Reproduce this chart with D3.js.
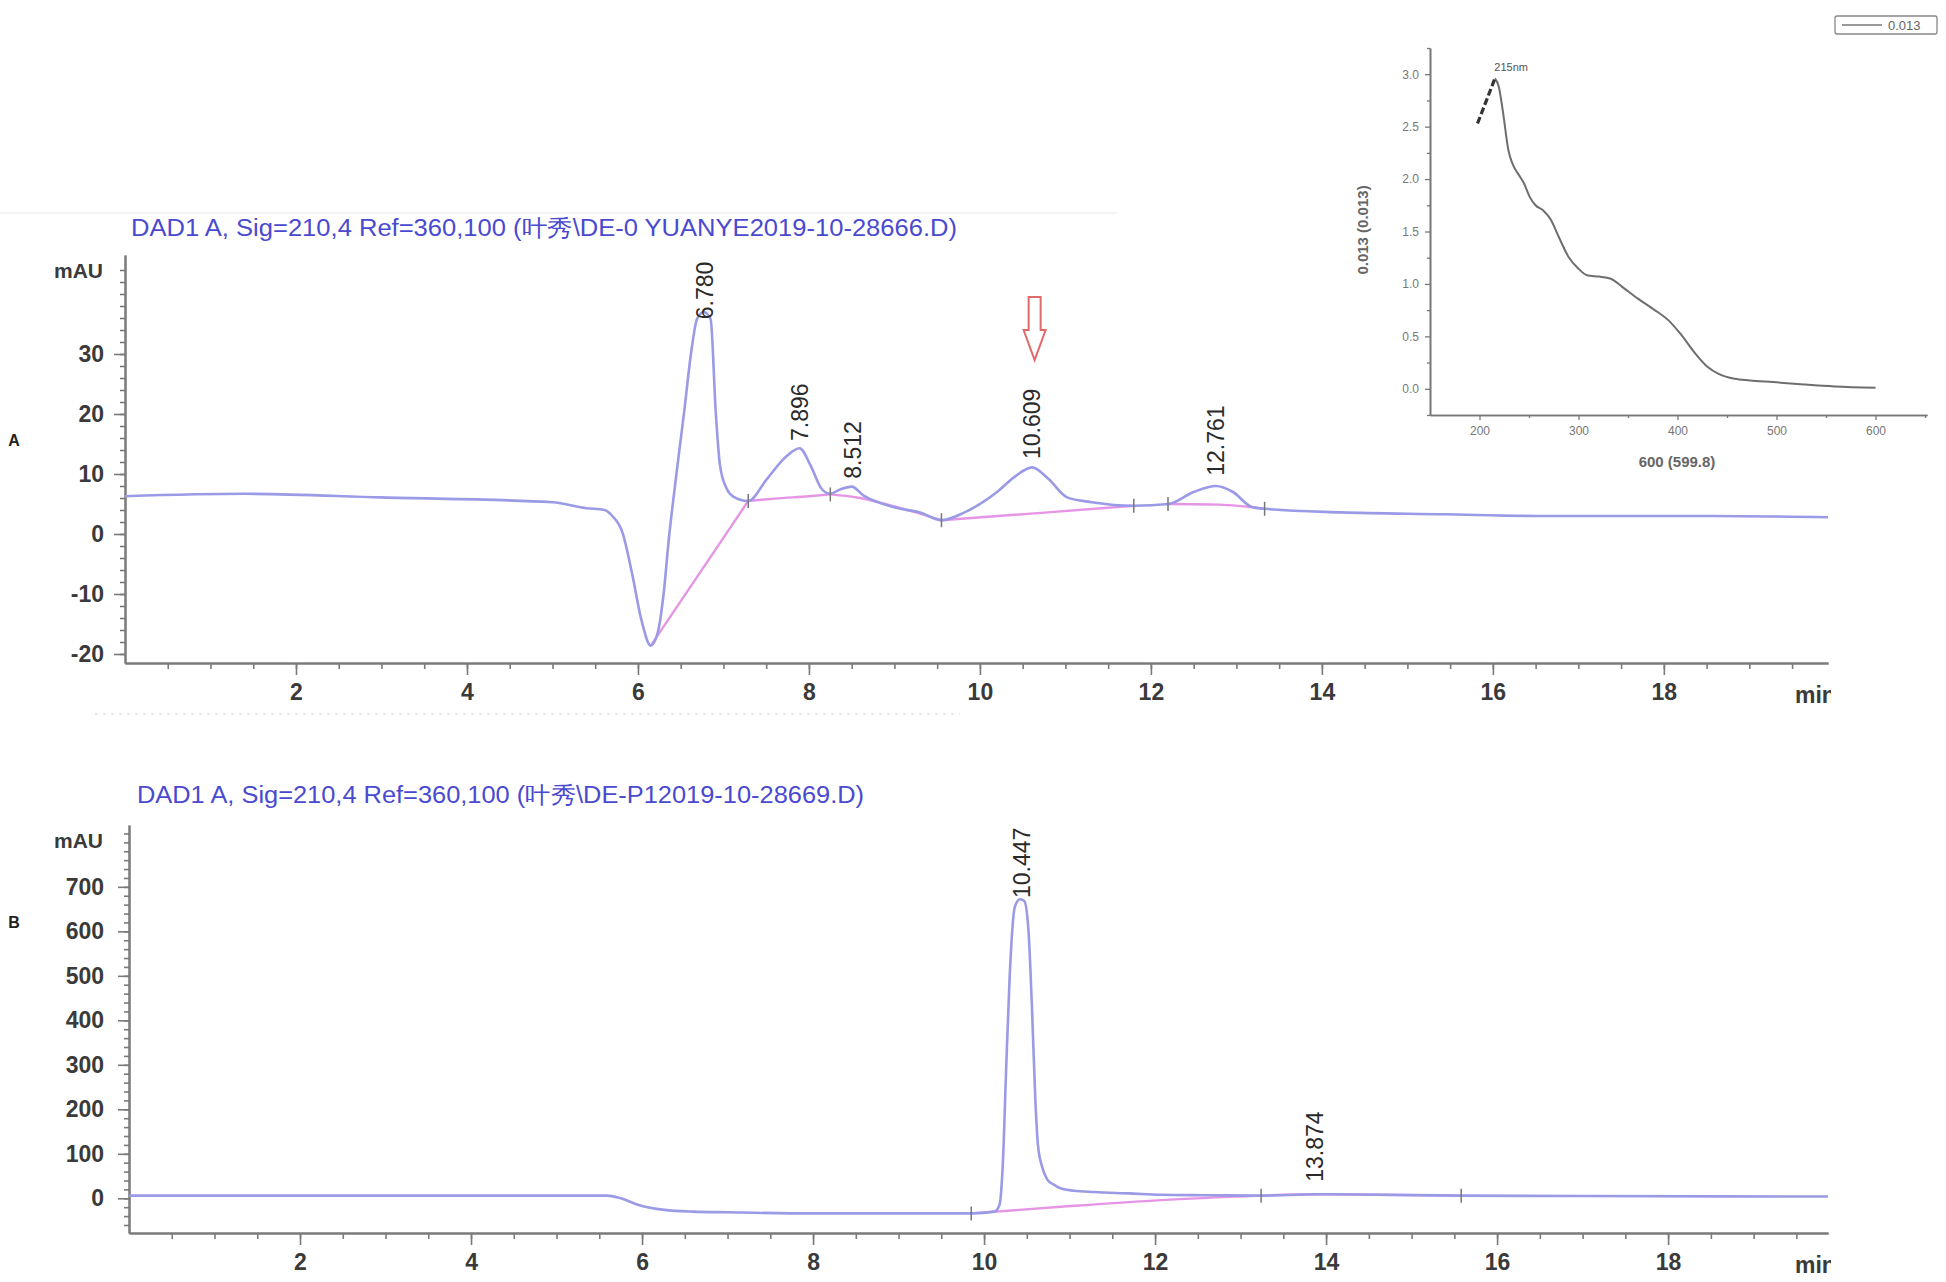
<!DOCTYPE html>
<html>
<head>
<meta charset="utf-8">
<script src="https://cdn.jsdelivr.net/npm/d3@7"></script>
<style>
body { margin: 0; background: #fff; }
svg { display: block; font-family: "Liberation Sans", Arial, sans-serif; }
</style>
</head>
<body>
<svg width="1946" height="1282"></svg>
<script>
var svg = d3.select("svg");

// chromatogram A (retention time in min, signal in mAU)
var rtA = [0, 1.4, 3.0, 5.0, 5.4, 5.61, 5.7, 5.82, 5.93, 6.04, 6.15, 6.23, 6.3, 6.36, 6.45, 6.54, 6.62, 6.69, 6.77, 6.85, 6.91, 6.96, 7.04, 7.12, 7.29,
           7.51, 7.74, 7.89, 8.02, 8.15, 8.25, 8.36, 8.5, 8.64, 8.87, 9.07, 9.3, 9.55, 9.82, 10.2, 10.42, 10.61, 10.8, 11.02, 11.31,
           11.8, 12.21, 12.5, 12.76, 12.96, 13.18, 13.33, 14.22, 15.42, 16.54, 18.55, 19.92];
var mauA = [6.3, 6.7, 6.1, 5.3, 4.3, 4.0, 3.0, 0.2, -6.5, -14.3, -18.6, -16.5, -10, -1, 10, 20.3, 30, 35.8, 37, 35.8, 20.3, 11.4, 7.5, 6.2, 5.5,
            9.2, 13.0, 14.3, 11.4, 7.5, 6.7, 7.4, 7.9, 6.4, 5.0, 4.2, 3.6, 2.3, 3.6, 7.0, 9.7, 11.1, 9.2, 6.1, 5.3,
            4.7, 5.0, 7.0, 8.0, 7.0, 4.5, 4.2, 3.6, 3.3, 3.0, 3.0, 2.8];
var baseRtA = [[6.15, 7.29], [7.29, 7.6, 8.0, 8.25], [8.25, 8.6, 9.0, 9.3, 9.55], [9.55, 10.6, 11.8], [12.2, 12.8, 13.33]];
var baseMauA = [[-18.6, 5.5], [5.5, 5.9, 6.3, 6.6], [6.6, 6.0, 4.6, 3.4, 2.3], [2.3, 3.4, 4.7], [5.0, 4.9, 4.2]];
var markRtA = [7.29, 8.25, 9.55, 11.8, 12.2, 13.33];
var markMauA = [5.5, 6.6, 2.3, 4.7, 5.0, 4.2];
var peakLabelsA = ["6.780", "7.896", "8.512", "10.609", "12.761"];
var peakLabelMauA = [35.8, 15.5, 9.2, 12.5, 9.7];
var yTicksA = [-20, -10, 0, 10, 20, 30];

// chromatogram B
var rtB = [0, 2, 4, 5.59, 5.75, 5.96, 6.26, 6.6, 7.0, 7.98, 9.0, 9.85, 10.12, 10.18, 10.22, 10.26, 10.3, 10.36, 10.42, 10.47,
           10.52, 10.56, 10.6, 10.63, 10.68, 10.74, 10.82, 10.9, 11.05, 11.29, 11.7, 12.07, 12.6, 13.24, 13.9, 14.6, 15.58, 17.0, 19.87];
var mauB = [6, 6, 6, 6, 0, -15, -26, -30, -31.5, -34, -34, -34, -30, -15, 80, 300, 500, 655, 672, 668,
            600, 430, 220, 120, 70, 42, 30, 22, 17, 14, 11, 8, 7, 6, 9, 8, 6, 5, 4];
var baseRtB = [[9.85, 10.9, 12.07, 13.24], [13.24, 13.9, 14.6, 15.58]];
var baseMauB = [[-34, -19, -4, 6], [6, 9, 8, 6]];
var markRtB = [9.85, 13.24, 15.58];
var markMauB = [-34, 6, 6];
var peakLabelsB = ["10.447", "13.874"];
var peakLabelMauB = [675, 37];
var yTicksB = [0, 100, 200, 300, 400, 500, 600, 700];

var xTicks = [2, 4, 6, 8, 10, 12, 14, 16, 18];

// UV spectrum inset
var uvLeadNm = [198, 215.6];
var uvLeadAbs = [2.53, 2.96];
var uvNm = [215.6, 219.5, 223.4, 229.3, 233.2, 239, 244.9, 250.7, 256.6, 264.4, 272.2, 280, 289.8, 299.5, 309.3, 321,
            332.7, 344.4, 360, 375.6, 391.2, 402.9, 418.5, 430.2, 442, 457.6, 473.2, 496.6, 527.8, 559, 600];
var uvAbs = [2.96, 2.88, 2.66, 2.27, 2.15, 2.05, 1.96, 1.83, 1.75, 1.70, 1.61, 1.45, 1.26, 1.15, 1.08, 1.07,
             1.05, 0.97, 0.86, 0.76, 0.65, 0.525, 0.33, 0.21, 0.14, 0.095, 0.08, 0.064, 0.041, 0.022, 0.01];
var uvXTicks = [200, 300, 400, 500, 600];
var uvYTicks = [0, 0.5, 1.0, 1.5, 2.0, 2.5, 3.0];

var titleA = "DAD1 A, Sig=210,4 Ref=360,100 (叶秀\\DE-0 YUANYE2019-10-28666.D)";
var titleB = "DAD1 A, Sig=210,4 Ref=360,100 (叶秀\\DE-P12019-10-28669.D)";

var signalColor = "#9a9ae6";
var baseColor = "#e695e6";

var plain = d => String(d); // hyphen minus, like the instrument print-out

var styleAxis = function(g, size) {
  g.selectAll(".domain").attr("stroke", "#7a7a7a").attr("stroke-width", 2);
  g.selectAll(".tick line").attr("stroke", "#7a7a7a").attr("stroke-width", 1.6);
  g.selectAll("text").attr("fill", "#3a3a3a").style("font-size", size + "px")
    .style("font-weight", "bold").attr("font-family", null);
};

svg.append("defs").append("clipPath").attr("id", "page")
  .append("rect").attr("x", 0).attr("y", 0).attr("width", 1831).attr("height", 1282);

var drawPanel = function(p) {
  var x = d3.scaleLinear().domain(p.xDomain).range([p.left, p.right]);
  var y = d3.scaleLinear().domain(p.yDomain).range([p.bottom, p.top]);
  var g = svg.append("g");

  // x axis: minor every 0.5 min, labelled every 2 min
  var gx = g.append("g").attr("transform", "translate(0," + p.bottom + ")");
  gx.append("g").call(d3.axisBottom(x).tickValues(d3.range(0.5, 19.9, 0.5)).tickSize(6).tickFormat("").tickSizeOuter(0));
  gx.append("g").call(d3.axisBottom(x).tickValues(xTicks).tickSize(12).tickPadding(9).tickFormat(plain).tickSizeOuter(0));
  styleAxis(gx, 23);

  var gy = g.append("g").attr("transform", "translate(" + p.left + ",0)");
  gy.append("g").call(d3.axisLeft(y).tickValues(p.yMinor).tickSize(5).tickFormat("").tickSizeOuter(0));
  gy.append("g").call(d3.axisLeft(y).tickValues(p.yTicks).tickSize(11).tickPadding(p.yPad).tickFormat(plain).tickSizeOuter(0));
  styleAxis(gy, 23);

  g.append("text").attr("x", 103).attr("y", p.unitY).attr("text-anchor", "end")
    .attr("fill", "#3a3a3a").style("font-size", "21px").style("font-weight", "bold").text("mAU");

  g.append("text").attr("x", 1795).attr("y", p.bottom + 40).attr("clip-path", "url(#page)")
    .attr("fill", "#3a3a3a").style("font-size", "23px").style("font-weight", "bold").text("min");

  g.append("text").attr("x", p.titleX).attr("y", p.titleY)
    .attr("fill", "#4a4ad0").style("font-size", "23px")
    .attr("textLength", p.titleLen).attr("lengthAdjust", "spacingAndGlyphs")
    .text(p.title);

  g.append("text").attr("x", 14).attr("y", p.letterY).attr("text-anchor", "middle")
    .attr("fill", "#222").style("font-size", "16px").style("font-weight", "bold").text(p.letter);

  var line = d3.line()
    .x(d => x(d[0]))
    .y(d => y(d[1]))
    .curve(d3.curveMonotoneX);

  // integration baselines
  p.baseRt.forEach(function(seg, i) {
    g.append("path")
      .attr("fill", "none")
      .attr("stroke", baseColor)
      .attr("stroke-width", 2.4)
      .attr("d", line(d3.zip(seg, p.baseMau[i])));
  });

  g.append("path")
    .attr("fill", "none")
    .attr("stroke", signalColor)
    .attr("stroke-width", 2.6)
    .attr("stroke-linejoin", "round")
    .attr("d", line(d3.zip(p.rt, p.mau)));

  // peak start/stop marks
  p.markRt.forEach(function(t, i) {
    g.append("line")
      .attr("x1", x(t)).attr("x2", x(t))
      .attr("y1", y(p.markMau[i]) - 7).attr("y2", y(p.markMau[i]) + 7)
      .attr("stroke", "#777").attr("stroke-width", 1.5);
  });

  p.labels.forEach(function(lab, i) {
    g.append("text")
      .attr("transform", "translate(" + (x(+lab) + 8) + "," + y(p.labelMau[i]) + ") rotate(-90)")
      .attr("fill", "#2a2a2a").style("font-size", "23px")
      .text(lab);
  });

  return {x: x, y: y, g: g};
};

// faint scan artefacts
svg.append("line").attr("x1", 0).attr("x2", 1117).attr("y1", 213).attr("y2", 213)
  .attr("stroke", "#f3f3f3").attr("stroke-width", 2);
svg.append("line").attr("x1", 95).attr("x2", 960).attr("y1", 714).attr("y2", 714)
  .attr("stroke", "#e6e6f6").attr("stroke-width", 2).attr("stroke-dasharray", "3,5");

var panelA = drawPanel({
  left: 125, right: 1828, top: 255, bottom: 663,
  xDomain: [0, 19.92], yDomain: [-21.5, 46.5],
  yTicks: yTicksA, yMinor: d3.range(-20, 46, 2), yPad: 10, unitY: 278,
  title: titleA, titleX: 131, titleY: 236, titleLen: 826,
  letter: "A", letterY: 446,
  rt: rtA, mau: mauA, baseRt: baseRtA, baseMau: baseMauA,
  markRt: markRtA, markMau: markMauA, labels: peakLabelsA, labelMau: peakLabelMauA
});

var panelB = drawPanel({
  left: 129, right: 1828, top: 825, bottom: 1233,
  xDomain: [0, 19.87], yDomain: [-78, 839],
  yTicks: yTicksB, yMinor: d3.range(-60, 830, 20), yPad: 14, unitY: 848,
  title: titleB, titleX: 137, titleY: 803, titleLen: 727,
  letter: "B", letterY: 928,
  rt: rtB, mau: mauB, baseRt: baseRtB, baseMau: baseMauB,
  markRt: markRtB, markMau: markMauB, labels: peakLabelsB, labelMau: peakLabelMauB
});

// red arrow over peak 10.609
var ax = panelA.x(10.64);
var aTop = panelA.y(39.5), aNeck = panelA.y(34), aTip = panelA.y(29);
panelA.g.append("path")
  .attr("d", "M" + (ax - 6) + "," + aTop + "L" + (ax + 6) + "," + aTop + "L" + (ax + 6) + "," + aNeck +
             "L" + (ax + 11) + "," + aNeck + "L" + ax + "," + aTip + "L" + (ax - 11) + "," + aNeck +
             "L" + (ax - 6) + "," + aNeck + "Z")
  .attr("fill", "#fff").attr("stroke", "#e06a6a").attr("stroke-width", 2);

// inset: UV spectrum
var ux = d3.scaleLinear().domain([150, 652]).range([1430, 1927]);
var uy = d3.scaleLinear().domain([-0.25, 3.25]).range([415, 48]);
var inset = svg.append("g");

var gux = inset.append("g").attr("transform", "translate(0,415)");
gux.append("g").call(d3.axisBottom(ux).tickValues(d3.range(250, 651, 100)).tickSize(3).tickFormat("").tickSizeOuter(0));
gux.append("g").call(d3.axisBottom(ux).tickValues(uvXTicks).tickSize(5).tickPadding(6).tickFormat(d3.format("d")).tickSizeOuter(0));
var guy = inset.append("g").attr("transform", "translate(1430,0)");
guy.append("g").call(d3.axisLeft(uy).tickValues(d3.range(-0.25, 3.3, 0.5)).tickSize(3).tickFormat("").tickSizeOuter(0));
guy.append("g").call(d3.axisLeft(uy).tickValues(uvYTicks).tickSize(5).tickPadding(6).tickFormat(d3.format(".1f")).tickSizeOuter(0));
[gux, guy].forEach(function(g) {
  g.selectAll(".domain").attr("stroke", "#777").attr("stroke-width", 1.6);
  g.selectAll(".tick line").attr("stroke", "#777").attr("stroke-width", 1.3);
  g.selectAll("text").attr("fill", "#777").style("font-size", "12px").attr("font-family", null);
});

inset.append("text").attr("x", 1677).attr("y", 467).attr("text-anchor", "middle")
  .attr("fill", "#666").style("font-size", "15px").style("font-weight", "bold").text("600 (599.8)");
inset.append("text").attr("transform", "translate(1368,230) rotate(-90)").attr("text-anchor", "middle")
  .attr("fill", "#666").style("font-size", "15px").style("font-weight", "bold").text("0.013 (0.013)");

var uvLine = d3.line().x(d => ux(d[0])).y(d => uy(d[1])).curve(d3.curveMonotoneX);
inset.append("path").attr("fill", "none").attr("stroke", "#6e6e6e").attr("stroke-width", 2)
  .attr("d", uvLine(d3.zip(uvNm, uvAbs)));
inset.append("path").attr("fill", "none").attr("stroke", "#333").attr("stroke-width", 3.2)
  .attr("stroke-dasharray", "7,3")
  .attr("d", uvLine(d3.zip(uvLeadNm, uvLeadAbs)));
inset.append("text").attr("x", ux(215)).attr("y", 71).attr("fill", "#555").style("font-size", "11px").text("215nm");

// legend box
var lg = svg.append("g");
lg.append("rect").attr("x", 1835).attr("y", 16).attr("width", 102).attr("height", 18).attr("rx", 2)
  .attr("fill", "#fff").attr("stroke", "#888").attr("stroke-width", 1.3);
lg.append("line").attr("x1", 1842).attr("x2", 1882).attr("y1", 25).attr("y2", 25)
  .attr("stroke", "#777").attr("stroke-width", 1.5);
lg.append("text").attr("x", 1888).attr("y", 30).attr("fill", "#666").style("font-size", "13px").text("0.013");
</script>
</body>
</html>
